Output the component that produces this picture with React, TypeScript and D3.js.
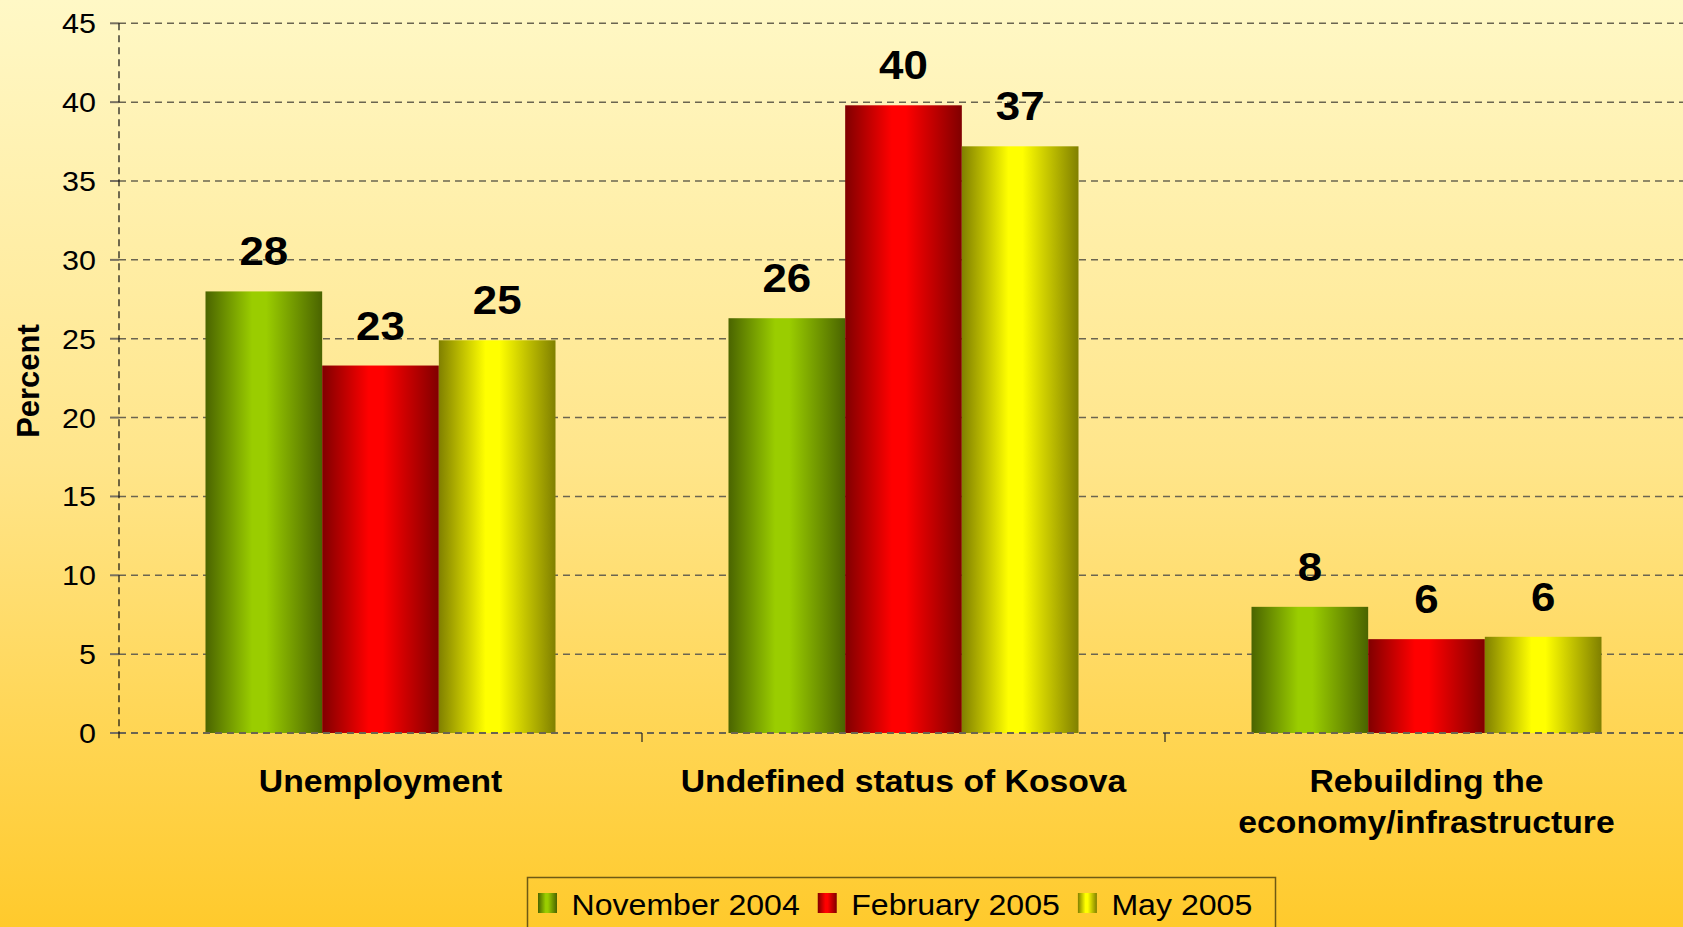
import React, { useEffect, useRef } from "react";
import * as d3 from "d3";

const categories = ["Unemployment", "Undefined status of Kosova", "Rebuilding the economy/infrastructure"];
const categoryLines = [["Unemployment"], ["Undefined status of Kosova"], ["Rebuilding the", "economy/infrastructure"]];
const seriesNames = ["November 2004", "February 2005", "May 2005"];
const nov2004 = [28.0, 26.3, 8.0];
const feb2005 = [23.3, 39.8, 5.95];
const may2005 = [24.9, 37.2, 6.1];
const seriesValues = [nov2004, feb2005, may2005];
const yTicks = [0, 5, 10, 15, 20, 25, 30, 35, 40, 45];
const seriesDark = ["#4a6400", "#800000", "#808000"];
const seriesBright = ["#9acd00", "#ff0000", "#ffff00"];
const yTitle = "Percent";

const W = 1683;
const H = 927;
const FONT = "'Liberation Sans', Arial, sans-serif";
const SX = 1.07;

export default function App() {
  const ref = useRef<SVGSVGElement | null>(null);

  useEffect(() => {
    const svg = d3.select(ref.current);
    svg.selectAll("*").remove();

    const defs = svg.append("defs");
    const bg = defs.append("linearGradient").attr("id", "bg").attr("x1", 0).attr("y1", 0).attr("x2", 0).attr("y2", 1);
    bg.append("stop").attr("offset", 0).attr("stop-color", "#fff8c6");
    bg.append("stop").attr("offset", 0.5).attr("stop-color", "#ffe58a");
    bg.append("stop").attr("offset", 1).attr("stop-color", "#ffca2c");

    seriesNames.forEach((_, i) => {
      const g = defs.append("linearGradient").attr("id", `sg${i}`).attr("x1", 0).attr("y1", 0).attr("x2", 1).attr("y2", 0);
      g.append("stop").attr("offset", 0).attr("stop-color", seriesDark[i]);
      g.append("stop").attr("offset", 0.4).attr("stop-color", seriesBright[i]);
      g.append("stop").attr("offset", 0.52).attr("stop-color", seriesBright[i]);
      g.append("stop").attr("offset", 1).attr("stop-color", seriesDark[i]);
    });

    svg.append("rect").attr("x", 0).attr("y", 0).attr("width", W).attr("height", H).attr("fill", "url(#bg)");

    const plotLeft = 119;
    const bandW = 523;
    const x0 = d3.scaleBand<string>().domain(categories).range([plotLeft, plotLeft + bandW * 3]).padding(0);
    const x1 = d3.scaleBand<string>().domain(seriesNames).range([86.5, bandW - 86.5]).padding(0);
    const y = d3.scaleLinear().domain([0, 45]).range([733, 23.3]);

    // gridlines
    const grid = svg.append("g");
    yTicks.forEach((t) => {
      grid.append("line")
        .attr("x1", plotLeft).attr("x2", W)
        .attr("y1", y(t)).attr("y2", y(t))
        .attr("stroke", "#6b6550")
        .attr("stroke-width", t === 0 ? 2.2 : 1.5)
        .attr("stroke-dasharray", "7,5");
      grid.append("line")
        .attr("x1", plotLeft - 9).attr("x2", plotLeft)
        .attr("y1", y(t)).attr("y2", y(t))
        .attr("stroke", "#777060").attr("stroke-width", 2);
    });

    // bars
    const bars = svg.append("g");
    categories.forEach((c, ci) => {
      seriesNames.forEach((s, si) => {
        const v = seriesValues[si][ci];
        const bx = (x0(c) as number) + (x1(s) as number);
        bars.append("rect")
          .attr("x", bx).attr("y", y(v))
          .attr("width", x1.bandwidth()).attr("height", y(0) - y(v))
          .attr("fill", `url(#sg${si})`);
      });
    });

    // redraw zero line over bars
    svg.append("line")
      .attr("x1", plotLeft).attr("x2", W)
      .attr("y1", y(0)).attr("y2", y(0))
      .attr("stroke", "#6b6550").attr("stroke-width", 2.2).attr("stroke-dasharray", "7,5");

    // y axis line
    svg.append("line")
      .attr("x1", plotLeft).attr("x2", plotLeft)
      .attr("y1", y(45)).attr("y2", y(0) + 9)
      .attr("stroke", "#111").attr("stroke-width", 1.2).attr("stroke-dasharray", "7,5");

    // category ticks
    [1, 2, 3].forEach((k) => {
      const xx = plotLeft + bandW * k;
      svg.append("line")
        .attr("x1", xx).attr("x2", xx)
        .attr("y1", y(0)).attr("y2", y(0) + 9)
        .attr("stroke", "#222").attr("stroke-width", 1.2);
    });

    const txt = (parent: any, x: number, yy: number, s: string, size: number, weight: string, anchor: string) =>
      parent.append("text")
        .attr("transform", `translate(${x},${yy}) scale(${SX},1)`)
        .attr("font-family", FONT)
        .attr("font-size", size)
        .attr("font-weight", weight)
        .attr("text-anchor", anchor)
        .attr("fill", "#000")
        .text(s);

    // y tick labels
    yTicks.forEach((t) => {
      txt(svg, 96, y(t) + 10, String(t), 28.5, "normal", "end");
    });

    // y title
    svg.append("text")
      .attr("transform", `translate(39,381) rotate(-90)`)
      .attr("font-family", FONT).attr("font-size", 31).attr("font-weight", "bold")
      .attr("text-anchor", "middle").text(yTitle);

    // value labels
    categories.forEach((c, ci) => {
      seriesNames.forEach((s, si) => {
        const v = seriesValues[si][ci];
        const cx = (x0(c) as number) + (x1(s) as number) + x1.bandwidth() / 2;
        txt(svg, cx, y(v) - 26, String(Math.round(v)), 41, "bold", "middle");
      });
    });

    // category labels
    categories.forEach((c, ci) => {
      const cx = (x0(c) as number) + x0.bandwidth() / 2;
      categoryLines[ci].forEach((line, li) => {
        txt(svg, cx, 792 + li * 41, line, 31.5, "bold", "middle");
      });
    });

    // legend
    const lg = svg.append("g");
    lg.append("rect").attr("x", 527.5).attr("y", 877.5).attr("width", 748).attr("height", 70)
      .attr("fill", "none").attr("stroke", "#6e5a14").attr("stroke-width", 1.5);
    let lx = 538;
    seriesNames.forEach((s, si) => {
      lg.append("rect").attr("x", lx).attr("y", 893).attr("width", 19).attr("height", 20).attr("fill", `url(#sg${si})`);
      const t = txt(lg, lx + 33.5, 915, s, 30, "normal", "start");
      const w = (t.node() as SVGTextElement).getComputedTextLength() * SX;
      lx = lx + 33.5 + w + 18;
    });
  }, []);

  return (
    <svg ref={ref} width={W} height={H} style={{ position: "fixed", left: 0, top: 0, display: "block" }} />
  );
}
